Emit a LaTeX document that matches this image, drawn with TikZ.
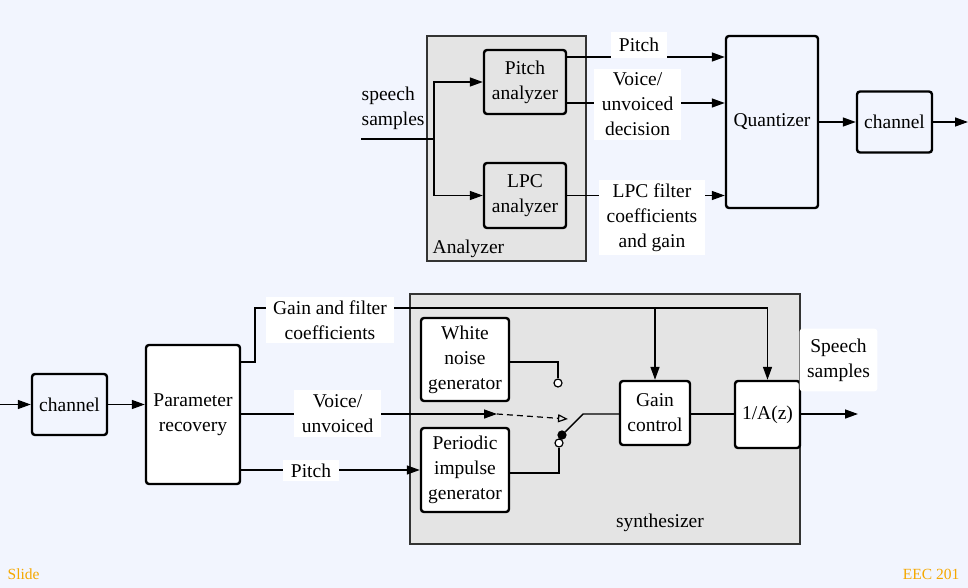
\documentclass[tikz,border=0pt]{standalone}
\usepackage{fontspec}
\setmainfont{Liberation Serif}
\usetikzlibrary{arrows.meta,positioning}
\definecolor{slidebg}{HTML}{F2F5FE}
\definecolor{panelgray}{HTML}{E4E4E4}
\definecolor{footorange}{HTML}{F5A800}
\begin{document}
\begin{tikzpicture}[x=1pt, y=1pt, line width=1.4pt,
	>={Triangle[length=13pt,width=9pt]},
	font=\fontsize{19.5}{25}\selectfont,
	blk/.style = {draw, line width=2.4pt, rounded corners=3pt, align=center, inner sep=0pt},
	grp/.style = {draw=black!80, line width=1.3pt, fill=panelgray, inner sep=0pt},
	lbl/.style = {fill=white, align=center, inner xsep=7.5pt, inner ysep=4pt},
	pin/.style = {draw, circle, fill=white, line width=1.2pt, minimum size=8pt, inner sep=0pt},
	foot/.style = {text=footorange, font=\fontsize{15.5}{18}\selectfont, inner sep=0pt}]
		\fill[slidebg] (0,0) rectangle (968,-588);
		\useasboundingbox (0,0) rectangle (968,-588);
		
		%Analyzer part (top)
		\node[grp, minimum width=159pt, minimum height=225pt] (analyzer) at (506.5,-148.5) {};
		\node[anchor=west, inner sep=0pt] (analyzerlbl) at (432,-249) {Analyzer};
		\node[blk, fill=panelgray, minimum width=82pt, minimum height=64pt] (pitchan) at (525,-82) {Pitch\\analyzer};
		\node[blk, fill=panelgray, minimum width=82pt, minimum height=65pt] (lpcan) at (525,-195.5) {LPC\\analyzer};
		\node[blk, minimum width=92pt, minimum height=172pt] (quant) at (772,-122) {Quantizer};
		\node[blk, minimum width=75pt, minimum height=61pt] (chanA) [node distance=122.5pt, right of=quant] {channel};
		\node[align=left, anchor=west, inner sep=0pt] (insamp) at (361,-108) {speech\\samples};
		\coordinate (inA) at (361,-139);
		\coordinate (split) at (434,-139);
		\coordinate (outA) at (968,-122);
		
		\draw (inA) -- (split); %Input line
		\draw[->] (split) |- (pitchan); %Split -> pitch analyzer
		\draw[->] (split) |- (lpcan); %Split -> LPC analyzer
		\draw[->] (pitchan.east |- 0,-57) -- (quant.west |- 0,-57); %Pitch
		\draw[->] (pitchan.east |- 0,-103) -- (quant.west |- 0,-103); %Voiced/unvoiced
		\draw[->] (lpcan) -- (quant.west |- lpcan); %LPC coefficients
		\draw[->] (quant) -- (chanA); %Quantizer -> channel
		\draw[->] (chanA) -- (outA); %Channel out
		
		\node[lbl, minimum height=26pt] (lblpitchA) at (639,-45) {Pitch};
		\node[lbl] (lblvoiceA) at (637.5,-104.5) {Voice/\\unvoiced\\decision};
		\node[lbl] (lbllpc) at (652,-217.5) {LPC filter\\coefficients\\and gain};
		
		%Synthesizer part (bottom)
		\node[grp, minimum width=390pt, minimum height=250pt] (synth) at (605,-419) {};
		\node (synthlbl) at (660,-523) {synthesizer};
		\node[blk, minimum width=75pt, minimum height=61pt] (chanB) at (69.5,-404.5) {channel};
		\node[blk, fill=white, minimum width=94pt, minimum height=139pt] (paramrec) at (193,-414.5) {Parameter\\recovery};
		\node[blk, fill=white, minimum width=88pt, minimum height=83pt] (wng) at (465,-359.5) {White\\noise\\generator};
		\node[blk, fill=white, minimum width=88pt, minimum height=84pt] (pig) at (465,-470) {Periodic\\impulse\\generator};
		\node[blk, fill=white, minimum width=70pt, minimum height=64pt] (gainctl) at (655,-413) {Gain\\control};
		\node[blk, fill=white, minimum width=65pt, minimum height=67pt] (invA) at (767.5,-414.5) {1/A(z)};
		%Switch contacts
		\node[pin] (pinA) at (558,-383) {};
		\node[pin] (pinB) at (559,-443) {};
		\node[pin, fill=black] (pivot) at (562,-435) {};
		\coordinate (inB) at (0,-404.5);
		\coordinate (gtap) at (255,-308);
		\coordinate (gtop) at (767.5,-308);
		\coordinate (vmid) at (497,-414);
		\coordinate (swctl) at (568,-419);
		\coordinate (swtip) at (583,-414);
		\coordinate (outB) at (858,-414);
		
		\draw[->] (inB) -- (chanB); %Input -> channel
		\draw[->] (chanB) -- (paramrec.west |- chanB); %Channel -> parameter recovery
		\draw (paramrec.east |- 0,-362) -| (gtap) -- (gtop); %Gain and filter coefficients
		\draw[->] (gtop) -- (invA); %Coefficients -> 1/A(z)
		\draw[->] (gainctl |- gtop) -- (gainctl); %Gain -> gain control
		\draw[->] (paramrec.east |- vmid) -- (vmid); %Voice/unvoiced
		\draw[dashed, dash pattern=on 6pt off 4pt, line width=1.2pt, -{Triangle[open,length=10pt,width=8pt]}] (vmid) -- (swctl); %Switch control
		\draw[->] (paramrec.east |- pig) -- (pig); %Pitch -> impulse generator
		\draw (wng.east |- 0,-362) -| (pinA); %Noise -> contact
		\draw (pinB) |- (pig.east |- 0,-473); %Impulses -> contact
		\draw (pivot) -- (swtip) -- (gainctl.west |- swtip); %Switch arm
		\draw (gainctl.east |- swtip) -- (invA.west |- swtip); %Gain control -> 1/A(z)
		\draw[->] (invA.east |- outB) -- (outB); %Output
		
		\node[lbl] (lblgain) at (330,-320) {Gain and filter\\coefficients};
		\node[lbl] (lblvoiceB) at (337.5,-413.5) {Voice/\\unvoiced};
		\node[lbl] (lblpitchB) at (311,-470.5) {Pitch};
		\node[lbl, inner ysep=10pt, rounded corners=3pt] (lblout) at (838.5,-360) {Speech\\samples};
		
		%Footer
		\node[foot, anchor=west] (slidelbl) at (7,-574) {Slide};
		\node[foot, anchor=east] (eeclbl) at (960,-574) {EEC 201};
	\end{tikzpicture}
\end{document}
